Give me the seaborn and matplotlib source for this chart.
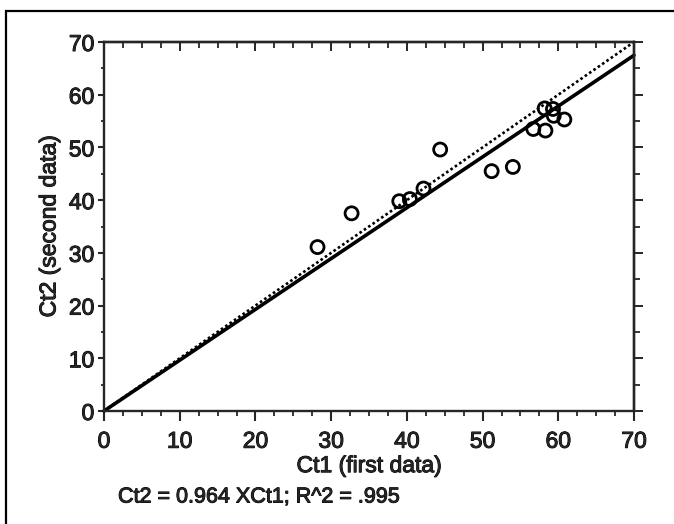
import matplotlib
matplotlib.use("Agg")
import matplotlib.pyplot as plt
import matplotlib.patheffects as pe
from matplotlib.patches import Rectangle
from matplotlib.ticker import MultipleLocator
import seaborn as sns
import pandas as pd

# Ct values
ct1 = [28.2, 32.7, 39.0, 40.4, 42.2, 44.4, 51.2, 54.0, 56.7, 58.3, 58.2, 59.3, 59.4, 60.8]
ct2 = [31.1, 37.5, 39.8, 40.2, 42.2, 49.6, 45.5, 46.3, 53.5, 53.2, 57.4, 57.3, 56.0, 55.3]

slope = 0.964
line_x = [0, 70]
fit_y = [slope * v for v in line_x]
ident_y = line_x
equation = "Ct2 = 0.964 XCt1; R^2 = .995"

sns.set_style("ticks")
plt.rcParams['font.family'] = ['Liberation Sans', 'DejaVu Sans']

# printed look: slightly heavier glyphs
heavy = [pe.withStroke(linewidth=0.7, foreground="black")]

fig = plt.figure(figsize=(6.74, 5.24), dpi=100)
ax = fig.add_axes([104 / 674, 1 - 411 / 524, 530 / 674, 369 / 524])

df = pd.DataFrame({"Ct1": ct1, "Ct2": ct2})
lines = pd.DataFrame({"x": line_x, "fit": fit_y, "ident": ident_y})

sns.lineplot(data=lines, x="x", y="ident", ax=ax, color="black", lw=1.9,
             linestyle=(0, (1.0, 1.0)), clip_on=False)
sns.lineplot(data=lines, x="x", y="fit", ax=ax, color="black", lw=2.6, clip_on=False)
sns.scatterplot(data=df, x="Ct1", y="Ct2", ax=ax, s=88, facecolor="none",
                edgecolor="black", linewidth=2.0, zorder=5)

ax.set_xlim(0, 70)
ax.set_ylim(0, 70)
for sp in ax.spines.values():
    sp.set_visible(True)
    sp.set_linewidth(1.7)

ax.xaxis.set_major_locator(MultipleLocator(10))
ax.xaxis.set_minor_locator(MultipleLocator(2.5))
ax.yaxis.set_major_locator(MultipleLocator(10))
ax.yaxis.set_minor_locator(MultipleLocator(5))
ax.tick_params(axis="x", which="major", direction="out", length=7.5, width=1.5,
               labelsize=16.5, pad=6)
ax.tick_params(axis="x", which="minor", direction="out", length=3.5, width=1.3)
ax.tick_params(axis="y", which="major", direction="out", length=4, width=1.5,
               labelsize=16.5, pad=3)
ax.tick_params(axis="y", which="minor", direction="out", length=2, width=1.3)

top = ax.secondary_xaxis("top")
top.xaxis.set_major_locator(MultipleLocator(10))
top.xaxis.set_minor_locator(MultipleLocator(2.5))
top.tick_params(which="major", direction="in", length=6.5, width=1.4, labeltop=False)
top.tick_params(which="minor", direction="in", length=4, width=1.3)
top.spines["top"].set_linewidth(1.7)

right = ax.secondary_yaxis("right")
right.yaxis.set_major_locator(MultipleLocator(10))
right.yaxis.set_minor_locator(MultipleLocator(5))
right.tick_params(which="major", direction="out", length=6.5, width=1.4, labelright=False)
right.tick_params(which="minor", direction="out", length=4.5, width=1.3)
right.spines["right"].set_linewidth(1.7)

ax.set_xlabel("Ct1 (first data)", fontsize=16.5, labelpad=1, path_effects=heavy)
ax.set_ylabel("Ct2 (second data)", fontsize=16.5, labelpad=6, path_effects=heavy)
for lbl in ax.get_xticklabels() + ax.get_yticklabels():
    lbl.set_path_effects(heavy)

fig.text(118 / 674, 1 - 497 / 524, equation, fontsize=15.5, va="center", ha="left",
         path_effects=heavy)

# outer frame
fig.patches.append(Rectangle((6 / 674, -0.05), 1.2, 0.05 + 1 - 11 / 524,
                             transform=fig.transFigure, fill=False,
                             edgecolor="black", linewidth=1.6))

fig.savefig("out.png", dpi=100)
